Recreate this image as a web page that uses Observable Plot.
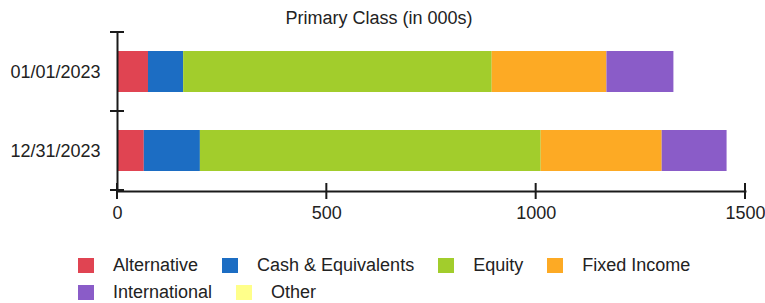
<!DOCTYPE html>
<html><head><meta charset="utf-8">
<script src="https://cdn.jsdelivr.net/npm/d3@7"></script>
<script src="https://cdn.jsdelivr.net/npm/@observablehq/plot@0.6"></script>
<style>
body{margin:0;background:#fff;font-family:"Liberation Sans",Arial,sans-serif;}
#wrap{position:relative;width:765px;height:303px;overflow:hidden;background:#fff;}
#title{position:absolute;top:8px;left:0;width:758px;text-align:center;font-size:18px;line-height:21px;color:#222;}
#chart{position:absolute;top:0;left:0;}
#legend{position:absolute;left:78px;top:252px;width:687px;display:flex;flex-wrap:wrap;font-size:18px;color:#222;}
.item{display:flex;align-items:center;height:27px;margin-right:24px;}
.sw{width:16px;height:15px;margin-right:19px;}
</style></head><body>
<div id="wrap"><div id="chart"></div><div id="title">Primary Class (in 000s)</div><div id="legend"></div></div>
<script>
const dates = ["01/01/2023", "12/31/2023"];
const classes = ["Alternative", "Cash & Equivalents", "Equity", "Fixed Income", "International", "Other"];
const colors = ["#e04452", "#1c6dc3", "#a2cd2c", "#fdaa24", "#8a5cc8", "#ffff8a"];
const valuesJan = [74, 84, 737, 274, 160, 0];
const valuesDec = [64, 134, 814, 289, 155, 0];
const xTicks = [0, 500, 1000, 1500];

const series = [valuesJan, valuesDec];
const data = [];
dates.forEach((d, i) => classes.forEach((c, j) => data.push({date: d, cls: c, value: series[i][j]})));

const chart = Plot.plot({
  width: 765,
  height: 240,
  marginTop: 32,
  marginBottom: 49,
  marginLeft: 117,
  marginRight: 20,
  style: {fontSize: "18px", fontFamily: "Liberation Sans, Arial, sans-serif", color: "#222", background: "white"},
  x: {domain: [0, 1500], ticks: xTicks, tickSize: 0, tickPadding: 15, label: null, tickFormat: d => String(d)},
  y: {domain: dates, paddingInner: 0.48, paddingOuter: 0.24, tickSize: 0, tickPadding: 17, label: null},
  color: {domain: classes, range: colors},
  marks: [
    Plot.barX(data, Plot.stackX({x: "value", y: "date", fill: "cls", order: classes})),
    Plot.ruleX([0], {stroke: "#1a1a1a", strokeWidth: 2}),
    Plot.frame({anchor: "bottom", stroke: "#1a1a1a", strokeWidth: 2})
  ]
});
document.getElementById("chart").appendChild(chart);

// tick marks crossing the axes, placed through the plot's own scales
const svg = d3.select(chart);
const xs = chart.scale("x"), ys = chart.scale("y");
const x0 = xs.apply(0);
const yBottom = ys.range[1];
const edges = d3.range(dates.length + 1).map(i => ys.range[0] + i * ys.step);
const g = svg.append("g").attr("stroke", "#1a1a1a").attr("stroke-width", 2);
g.selectAll(".yt").data(edges).join("line")
  .attr("x1", x0 - 7).attr("x2", x0 + 7).attr("y1", d => d).attr("y2", d => d);
g.selectAll(".xt").data(xTicks).join("line")
  .attr("x1", d => xs.apply(d)).attr("x2", d => xs.apply(d)).attr("y1", yBottom - 8).attr("y2", yBottom + 8);

// legend
const legend = d3.select("#legend");
const items = legend.selectAll(".item").data(classes).join("div").attr("class", "item");
items.append("div").attr("class", "sw").style("background", (d, i) => colors[i]);
items.append("span").text(d => d);
</script>
</body></html>
